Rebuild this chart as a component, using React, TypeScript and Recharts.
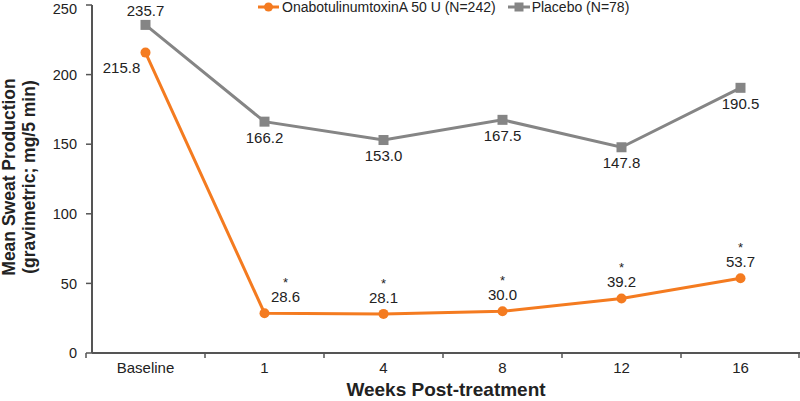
import { LineChart, Line, XAxis, YAxis, Legend, LabelList, Label } from 'recharts'

const weeks = ['Baseline', '1', '4', '8', '12', '16']
const onabotulinum = [215.8, 28.6, 28.1, 30.0, 39.2, 53.7]
const placebo = [235.7, 166.2, 153.0, 167.5, 147.8, 190.5]
const significant = [false, true, true, true, true, true]
const yTicks = [0, 50, 100, 150, 200, 250]

const data = weeks.map((w, i) => ({
  week: w,
  ona: onabotulinum[i],
  pbo: placebo[i],
}))

const ORANGE = '#f47b20'
const GRAY = '#858585'
const AXIS = '#555555'
const FONT = '"Liberation Sans", Arial, Helvetica, sans-serif'

const XTick = (props: any) => {
  const { x, y, payload, index } = props
  const half = payload?.offset ?? 59
  const last = index === weeks.length - 1
  return (
    <g>
      <line x1={x - half} x2={x - half} y1={y - 8} y2={y - 3} stroke={AXIS} strokeWidth={1.5} />
      {last && <line x1={x + half - 1} x2={x + half - 1} y1={y - 8} y2={y - 3} stroke={AXIS} strokeWidth={1.5} />}
      <text x={x} y={y + 12} textAnchor="middle" fontSize={15} fill="#222" fontFamily={FONT}>
        {payload.value}
      </text>
    </g>
  )
}

const onaLabel = (props: any) => {
  const { x, y, value, index } = props
  if (index === 0) {
    return (
      <text x={x - 24} y={y + 20} textAnchor="middle" fontSize={15} fill="#222" fontFamily={FONT}>
        {Number(value).toFixed(1)}
      </text>
    )
  }
  // first post-baseline label sits right of the steep drop
  const lx = index === 1 ? x + 21 : x
  return (
    <g fontFamily={FONT} fill="#222" textAnchor="middle">
      {significant[index] && <text x={lx} y={y - 26} fontSize={13}>*</text>}
      <text x={lx} y={y - 11} fontSize={15}>{Number(value).toFixed(1)}</text>
    </g>
  )
}

const pboLabel = (props: any) => {
  const { x, y, value, index } = props
  const dy = index === 0 ? -9 : 21
  return (
    <text x={x} y={y + dy} textAnchor="middle" fontSize={15} fill="#222" fontFamily={FONT}>
      {Number(value).toFixed(1)}
    </text>
  )
}

const SquareDot = (props: any) => {
  const { cx, cy } = props
  return <rect x={cx - 5} y={cy - 5} width={10} height={10} fill={GRAY} />
}

const renderLegend = () => (
  <div style={{ display: 'flex', alignItems: 'center', fontFamily: FONT, fontSize: 14, color: '#222', whiteSpace: 'nowrap', lineHeight: '14px' }}>
    <svg width={21} height={12}>
      <line x1={0} x2={21} y1={6} y2={6} stroke={ORANGE} strokeWidth={3} />
      <circle cx={10.5} cy={6} r={4.5} fill={ORANGE} />
    </svg>
    <span style={{ marginLeft: 3, marginRight: 12 }}>OnabotulinumtoxinA 50 U (N=242)</span>
    <svg width={22} height={12}>
      <line x1={0} x2={22} y1={6} y2={6} stroke={GRAY} strokeWidth={3} />
      <rect x={6.5} y={1.5} width={9} height={9} fill={GRAY} />
    </svg>
    <span style={{ marginLeft: 2 }}>Placebo (N=78)</span>
  </div>
)

const YTitle = () => {
  const cy = 177
  return (
    <g fontFamily={FONT} fontWeight="bold" fontSize={17.5} fill="#222" textAnchor="middle">
      <text transform={`translate(15, ${cy}) rotate(-90)`}>Mean Sweat Production</text>
      <text transform={`translate(35, ${cy}) rotate(-90)`}>(gravimetric; mg/5 min)</text>
    </g>
  )
}

export default function App() {
  return (
    <div style={{ position: 'absolute', left: 0, top: 0, width: 800, height: 401, background: '#fff' }}>
      <LineChart width={800} height={401} data={data} margin={{ top: 5, right: 0, bottom: 0, left: 0 }}>
        <XAxis
          dataKey="week"
          scale="band"
          height={48}
          axisLine={{ stroke: AXIS, strokeWidth: 2 }}
          tickLine={false}
          tick={<XTick />}
          padding={{ left: -6, right: 0 }}
          interval={0}
        >
          <Label
            value="Weeks Post-treatment"
            position="insideBottom"
            offset={5}
            style={{ fontFamily: FONT, fontWeight: 'bold', fontSize: 19, fill: '#222' }}
          />
        </XAxis>
        <YAxis
          domain={[0, 250]}
          ticks={yTicks}
          width={92}
          axisLine={{ stroke: AXIS, strokeWidth: 2 }}
          tickLine={{ stroke: AXIS, strokeWidth: 1.5 }}
          tickSize={6}
          tickMargin={9}
          tick={{ fontSize: 14.5, fill: '#222', fontFamily: FONT }}
          label={<YTitle />}
        />
        <Legend
          layout="vertical"
          align="center"
          verticalAlign="middle"
          wrapperStyle={{ position: 'absolute', top: 0, left: 258, width: 420 }}
          content={renderLegend}
        />
        <Line
          dataKey="pbo"
          stroke={GRAY}
          strokeWidth={3}
          dot={<SquareDot />}
          isAnimationActive={false}
        >
          <LabelList dataKey="pbo" content={pboLabel} />
        </Line>
        <Line
          dataKey="ona"
          stroke={ORANGE}
          strokeWidth={3}
          dot={{ r: 5, fill: ORANGE, stroke: ORANGE, strokeWidth: 0 }}
          isAnimationActive={false}
        >
          <LabelList dataKey="ona" content={onaLabel} />
        </Line>
      </LineChart>
    </div>
  )
}
